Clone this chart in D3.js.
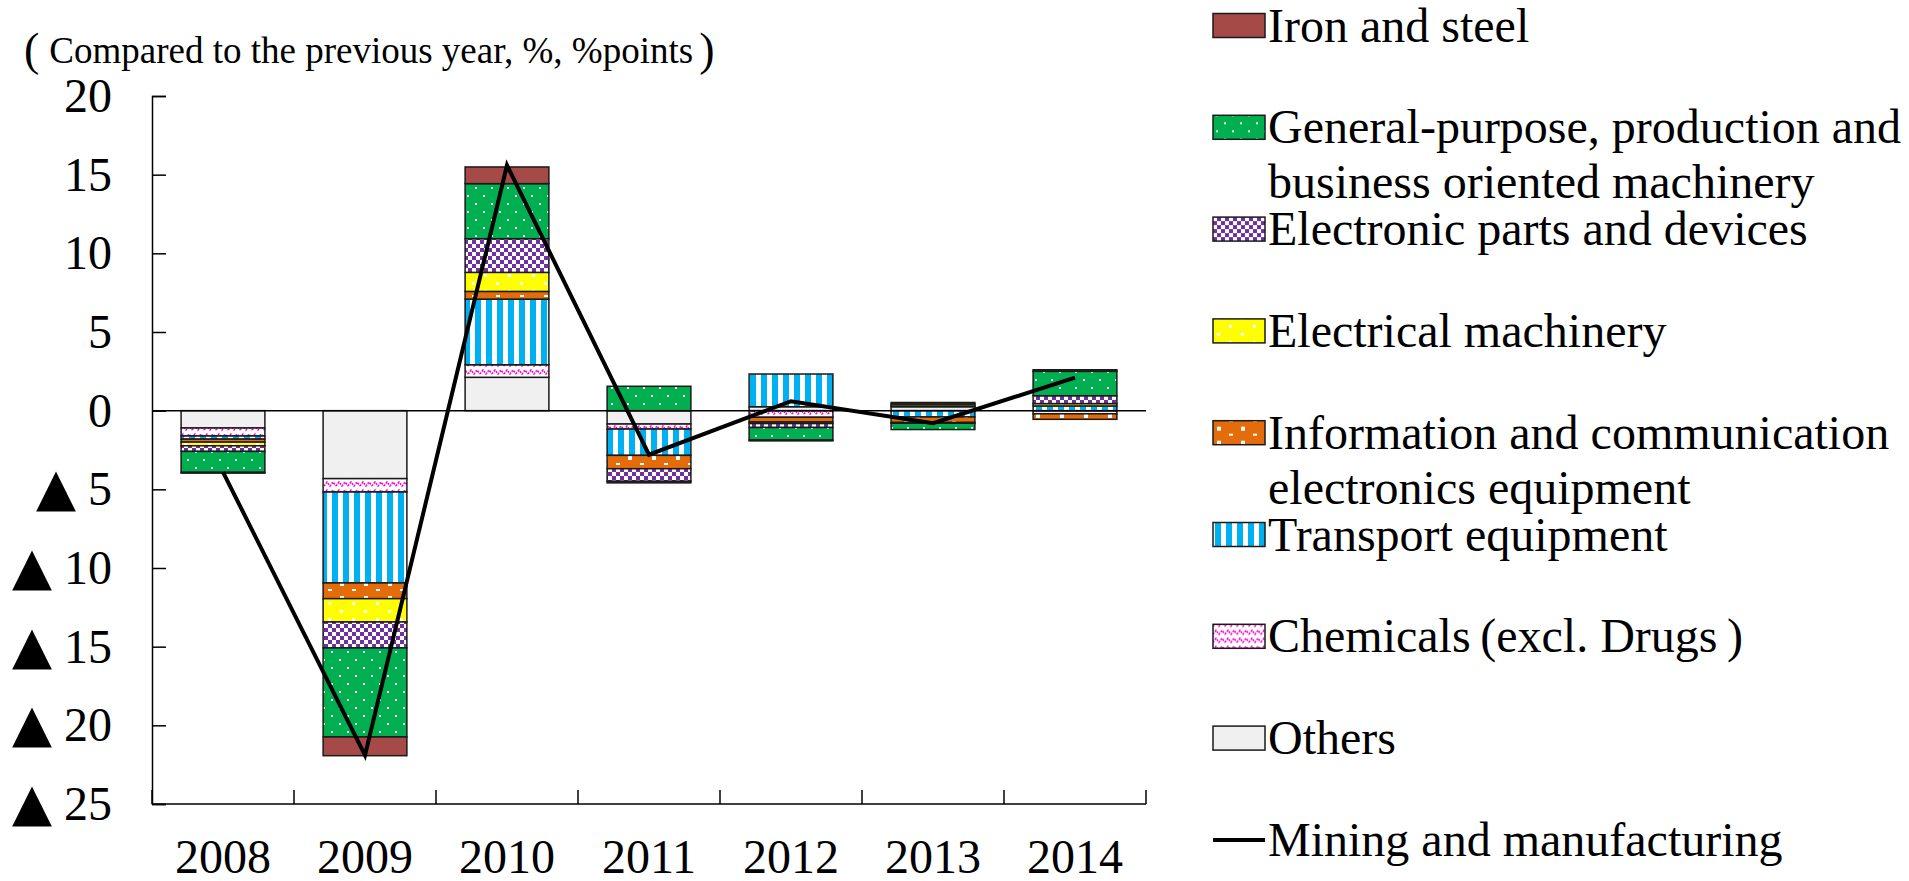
<!DOCTYPE html>
<html>
<head>
<meta charset="utf-8">
<script src="https://cdn.jsdelivr.net/npm/d3@7"></script>
<style>
  body { margin: 0; background: #fff; }
  svg { display: block; }
  svg text { font-family: "Liberation Serif", "Times New Roman", serif; }
</style>
</head>
<body>
<svg id="chart" width="1909" height="881"></svg>
<script>
// categories
var years = ["2008", "2009", "2010", "2011", "2012", "2013", "2014"];

// contributions by industry (%points)
var others     = [-1.10, -4.32, 2.12, -0.85,  0.25,  0.25, -0.20];
var chemicals  = [-0.51, -0.85, 0.80, -0.32, -0.42,  0.05,  0.00];
var transport  = [-0.20, -5.78, 4.17, -1.67,  2.08, -0.40,  0.30];
var info       = [-0.19, -1.00, 0.49, -0.85, -0.30, -0.35, -0.35];
var electrical = [-0.23, -1.48, 1.21,  0.00, -0.10,  0.12,  0.15];
var electronic = [-0.36, -1.65, 2.14, -0.80, -0.25, -0.05,  0.50];
var general    = [-1.33, -5.66, 3.50,  1.55, -0.80, -0.40,  1.55];
var iron       = [-0.05, -1.19, 1.06, -0.10, -0.05,  0.10,  0.10];

// mining and manufacturing, % change
var mining = [-3.9, -21.9, 15.6, -2.8, 0.6, -0.8, 2.1];

var yTicks = [20, 15, 10, 5, 0, -5, -10, -15, -20, -25];

var SERIF = "Liberation Serif, Times New Roman, serif";

// series in stacking order (nearest to zero first)
var series = [
  { key: "others", name: ["Others"], values: others, fill: "url(#pOthers)" },
  { key: "chemicals", name: ["Chemicals\u2009(excl. Drugs\u2009)"], values: chemicals, fill: "url(#pChem)" },
  { key: "transport", name: ["Transport equipment"], values: transport, fill: "url(#pTrans)" },
  { key: "info", name: ["Information and communication", "electronics equipment"], values: info, fill: "url(#pInfo)" },
  { key: "electrical", name: ["Electrical machinery"], values: electrical, fill: "url(#pElec)" },
  { key: "electronic", name: ["Electronic parts and devices"], values: electronic, fill: "url(#pParts)" },
  { key: "general", name: ["General-purpose, production and", "business oriented machinery"], values: general, fill: "url(#pGen)" },
  { key: "iron", name: ["Iron and steel"], values: iron, fill: "#a64a47" }
];

var table = years.map(function(y, i) {
  var row = { year: y };
  series.forEach(function(s) { row[s.key] = s.values[i]; });
  return row;
});

var svg = d3.select("#chart");
var defs = svg.append("defs");

// ---- fill patterns ----
function pat(id, w, h, bg) {
  var p = defs.append("pattern").attr("id", id).attr("patternUnits", "userSpaceOnUse")
    .attr("width", w).attr("height", h);
  p.append("rect").attr("width", w).attr("height", h).attr("fill", bg);
  return p;
}
pat("pOthers", 8, 8, "#f0f0f0");

var pg = pat("pGen", 16, 16, "#00b050");
pg.append("rect").attr("x", 3).attr("y", 3).attr("width", 2).attr("height", 2).attr("fill", "#fff");
pg.append("rect").attr("x", 11).attr("y", 11).attr("width", 2).attr("height", 2).attr("fill", "#fff");

var pp = pat("pParts", 8, 8, "#fff");
pp.append("rect").attr("width", 4).attr("height", 4).attr("fill", "#7030a0");
pp.append("rect").attr("x", 4).attr("y", 4).attr("width", 4).attr("height", 4).attr("fill", "#7030a0");

var pe = pat("pElec", 24, 16, "#ffff00");
pe.append("rect").attr("x", 4).attr("y", 2).attr("width", 3).attr("height", 3).attr("fill", "#fff");
pe.append("rect").attr("x", 16).attr("y", 10).attr("width", 3).attr("height", 3).attr("fill", "#fff");

var pi = pat("pInfo", 24, 14, "#e46c0a");
pi.append("rect").attr("x", 4).attr("y", 8).attr("width", 4).attr("height", 4).attr("fill", "#fff");
pi.append("rect").attr("x", 16).attr("y", 1).attr("width", 4).attr("height", 2).attr("fill", "#fff");

var pt = pat("pTrans", 11, 10, "#fff");
pt.append("rect").attr("x", 2).attr("width", 6).attr("height", 10).attr("fill", "#00b0f0");

var pc = pat("pChem", 12, 8, "#fff");
pc.append("path").attr("d", "M0,6 L3,2 L6,6 L9,2 L12,6")
  .attr("fill", "none").attr("stroke", "#ff00cc").attr("stroke-width", 1.6)
  .attr("stroke-dasharray", "2,1.2");

// ---- scales ----
var x = d3.scaleBand().domain(years).range([152, 1146]).padding(0);
var xb = d3.scaleBand().domain(years).range([152, 1146]).paddingInner(0.41).paddingOuter(0.205);
var y = d3.scaleLinear().domain([-25, 20]).range([804, 96]);

var stack = d3.stack()
  .keys(series.map(function(s) { return s.key; }))
  .offset(d3.stackOffsetDiverging);
var stacked = stack(table);

// ---- bars ----
var layers = svg.append("g").selectAll("g")
  .data(stacked)
  .enter().append("g")
  .attr("fill", function(d, i) { return series[i].fill; });

layers.selectAll("rect")
  .data(function(d) { return d; })
  .enter().append("rect")
  .attr("x", function(d) { return xb(d.data.year); })
  .attr("width", xb.bandwidth())
  .attr("y", function(d) { return y(Math.max(d[0], d[1])); })
  .attr("height", function(d) { return Math.abs(y(d[0]) - y(d[1])); })
  .attr("stroke", "#1a1a1a")
  .attr("stroke-width", 1.5);

// zero line
svg.append("line")
  .attr("x1", 152).attr("x2", 1146)
  .attr("y1", y(0)).attr("y2", y(0))
  .attr("stroke", "#000").attr("stroke-width", 1.5);

// ---- y axis (ticks pointing inward) ----
var yAxis = d3.axisLeft(y)
  .tickValues(yTicks)
  .tickSize(-14)
  .tickSizeOuter(-14)
  .tickPadding(40)
  .tickFormat(function(d) { return Math.abs(d); });

var gy = svg.append("g").attr("transform", "translate(152,0)").call(yAxis);
gy.selectAll("path, line").attr("stroke", "#000").attr("stroke-width", 1.5);
gy.selectAll("text")
  .attr("font-size", 48).attr("font-family", SERIF).attr("fill", "#000")
  .each(function(d) {
    if (d >= 0) return;
    // negative values are written with a black triangle
    var t = d3.select(this).text("");
    t.append("tspan").attr("font-family", "DejaVu Sans").attr("font-size", 52).text("▲");
    t.append("tspan").text(" " + (-d));
  });

// ---- x axis ----
svg.append("line")
  .attr("x1", 152).attr("x2", 1146)
  .attr("y1", y(-25)).attr("y2", y(-25))
  .attr("stroke", "#000").attr("stroke-width", 1.5);

var bounds = years.map(function(d) { return x(d); }).concat([x.range()[1]]);
svg.append("g").selectAll("line")
  .data(bounds)
  .enter().append("line")
  .attr("x1", function(d) { return d; }).attr("x2", function(d) { return d; })
  .attr("y1", y(-25)).attr("y2", y(-25) - 14)
  .attr("stroke", "#000").attr("stroke-width", 1.5);

var xAxis = d3.axisBottom(x).tickSize(0).tickPadding(35);
var gx = svg.append("g").attr("transform", "translate(0," + y(-25) + ")").call(xAxis);
gx.select(".domain").remove();
gx.selectAll("text").attr("font-size", 48).attr("font-family", SERIF).attr("fill", "#000");

// ---- mining and manufacturing line ----
var line = d3.line()
  .x(function(d, i) { return x(years[i]) + x.bandwidth() / 2; })
  .y(function(d) { return y(d); });

svg.append("path")
  .datum(mining)
  .attr("d", line)
  .attr("fill", "none")
  .attr("stroke", "#000")
  .attr("stroke-width", 4)
  .attr("stroke-linejoin", "miter");

// ---- subtitle ----
var sub = svg.append("text")
  .attr("x", 24).attr("y", 63)
  .attr("font-size", 37)
  .attr("font-family", SERIF)
  .attr("fill", "#000");
sub.append("tspan").attr("font-size", 46).attr("dy", 2).text("(");
sub.append("tspan").attr("dx", 10).attr("dy", -2).text("Compared to the previous year, %, %points");
sub.append("tspan").attr("dx", 6).attr("dy", 2).attr("font-size", 46).text(")");

// ---- legend ----
var legendItems = series.slice().reverse().concat([{ key: "mining", name: ["Mining and manufacturing"], line: true }]);
var lg = svg.append("g").selectAll("g")
  .data(legendItems)
  .enter().append("g")
  .attr("transform", function(d, i) { return "translate(1213," + (25.5 + i * 101.8) + ")"; });

lg.filter(function(d) { return !d.line; })
  .append("rect")
  .attr("x", 0).attr("y", -12).attr("width", 52).attr("height", 24)
  .attr("fill", function(d) { return d.fill; })
  .attr("stroke", "#1a1a1a").attr("stroke-width", 1.5);

lg.filter(function(d) { return d.line; })
  .append("line")
  .attr("x1", 0).attr("x2", 52).attr("y1", 0).attr("y2", 0)
  .attr("stroke", "#000").attr("stroke-width", 4);

lg.each(function(d) {
  var g = d3.select(this);
  d.name.forEach(function(t, k) {
    g.append("text")
      .attr("x", 55).attr("y", 16 + k * 55)
      .attr("font-size", 48)
      .attr("font-family", SERIF)
      .attr("fill", "#000")
      .text(t);
  });
});
</script>
</body>
</html>
